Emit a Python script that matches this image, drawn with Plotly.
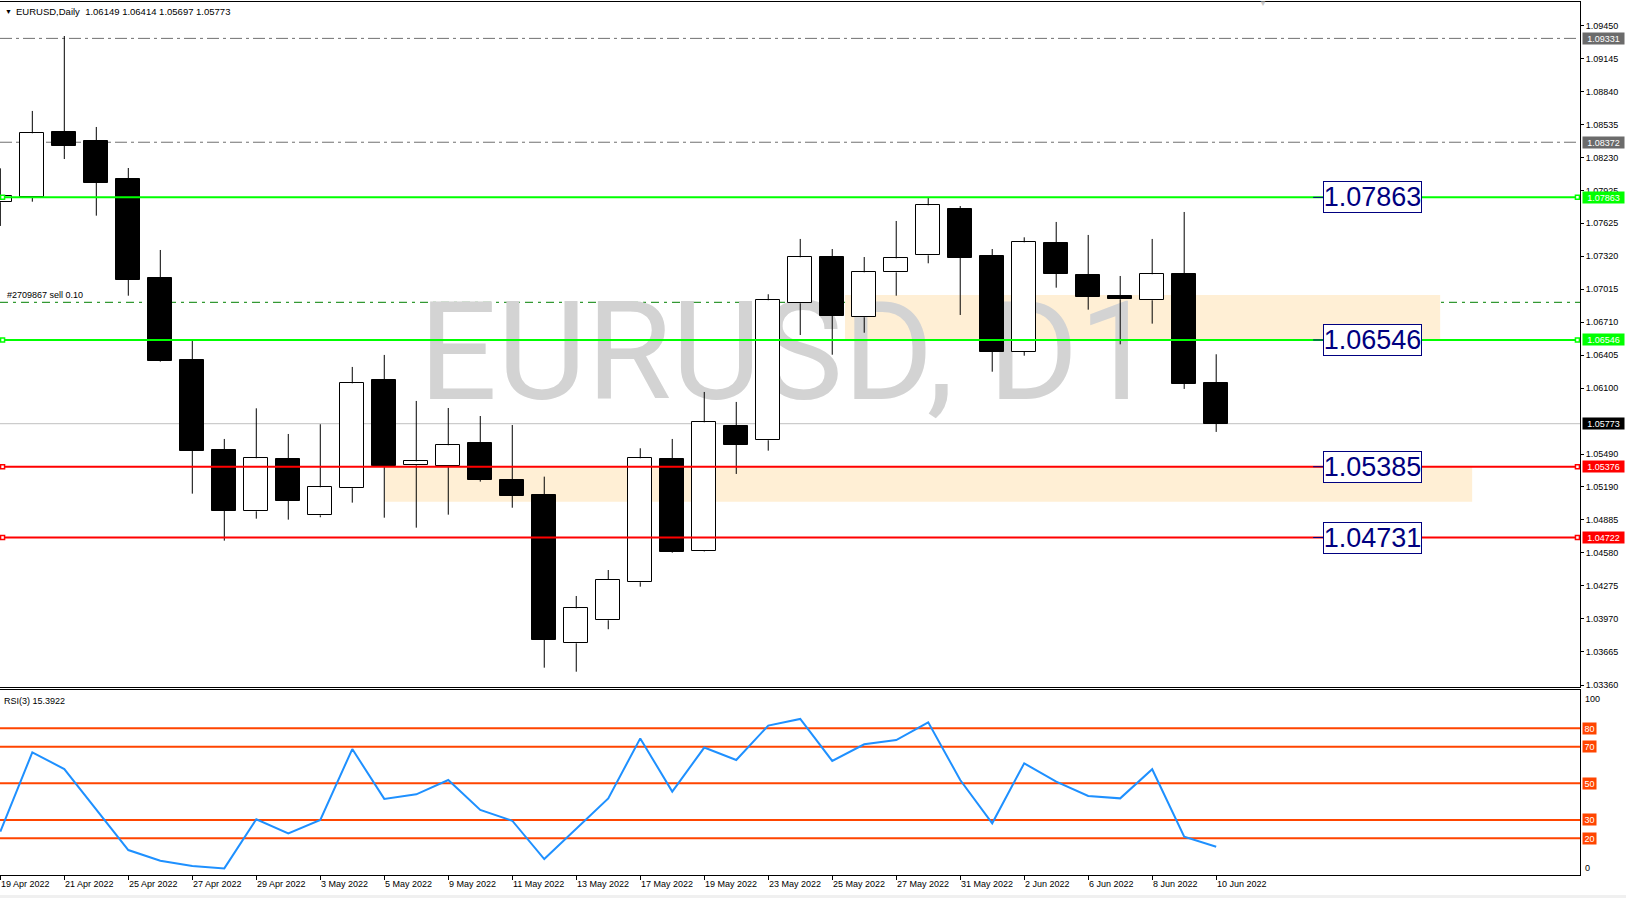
import plotly.graph_objects as go

# ---------------- data ----------------
dates = ["19 Apr 2022", "20 Apr 2022", "21 Apr 2022", "22 Apr 2022", "25 Apr 2022",
         "26 Apr 2022", "27 Apr 2022", "28 Apr 2022", "29 Apr 2022", "2 May 2022",
         "3 May 2022", "4 May 2022", "5 May 2022", "6 May 2022", "9 May 2022",
         "10 May 2022", "11 May 2022", "12 May 2022", "13 May 2022", "16 May 2022",
         "17 May 2022", "18 May 2022", "19 May 2022", "20 May 2022", "23 May 2022",
         "24 May 2022", "25 May 2022", "26 May 2022", "27 May 2022", "30 May 2022",
         "31 May 2022", "1 Jun 2022", "2 Jun 2022", "3 Jun 2022", "6 Jun 2022",
         "7 Jun 2022", "8 Jun 2022", "9 Jun 2022", "10 Jun 2022"]

opens = [1.07818, 1.07869, 1.08467, 1.08384, 1.08033, 1.07119, 1.06361, 1.05530, 1.04964, 1.05447,
         1.04927, 1.05177, 1.06177, 1.05389, 1.05383, 1.05592, 1.05253, 1.05115, 1.03745, 1.03958,
         1.04309, 1.05444, 1.04595, 1.05752, 1.05620, 1.06885, 1.07312, 1.06756, 1.07171, 1.07328,
         1.07756, 1.07322, 1.06438, 1.07442, 1.07143, 1.06952, 1.06913, 1.07155, 1.06149]
highs = [1.08131, 1.08661, 1.09353, 1.08513, 1.08134, 1.07377, 1.06540, 1.05632, 1.05915, 1.05678,
         1.05768, 1.06297, 1.06408, 1.05983, 1.05918, 1.05844, 1.05761, 1.05284, 1.04182, 1.04422,
         1.05546, 1.05632, 1.06066, 1.05974, 1.06968, 1.07479, 1.07386, 1.07312, 1.07645, 1.07860,
         1.07783, 1.07386, 1.07494, 1.07636, 1.07516, 1.07137, 1.07479, 1.07728, 1.06414]
lows = [1.07599, 1.07823, 1.08217, 1.07694, 1.06955, 1.06346, 1.05127, 1.04693, 1.04896, 1.04887,
        1.04909, 1.05044, 1.04905, 1.04813, 1.04933, 1.05238, 1.04997, 1.03520, 1.03483, 1.03875,
        1.04268, 1.04582, 1.04591, 1.05309, 1.05524, 1.06592, 1.06410, 1.06613, 1.06955, 1.07254,
        1.06777, 1.06253, 1.06401, 1.07029, 1.06826, 1.06506, 1.06697, 1.06094, 1.05697]
closes = [1.07876, 1.08455, 1.08340, 1.07999, 1.07103, 1.06355, 1.05524, 1.04970, 1.05454, 1.05062,
          1.05186, 1.06146, 1.05383, 1.05426, 1.05574, 1.05256, 1.05108, 1.03779, 1.04068, 1.04330,
          1.05454, 1.04591, 1.05786, 1.05579, 1.06913, 1.07310, 1.06770, 1.07171, 1.07300, 1.07790,
          1.07306, 1.06438, 1.07448, 1.07158, 1.06946, 1.06922, 1.07153, 1.06142, 1.05773]

rsi = [23.6, 66.9, 57.8, 36.0, 13.6, 7.8, 4.9, 3.6, 30.4, 22.7,
       30.0, 68.7, 41.5, 44.0, 51.8, 35.5, 29.6, 8.7, 25.5, 41.8,
       74.5, 45.5, 69.5, 62.7, 81.5, 85.1, 62.2, 71.3, 73.6, 83.3,
       51.8, 28.2, 60.9, 50.9, 43.1, 41.8, 57.7, 20.9, 15.3922]
rsi_levels = [80, 70, 50, 30, 20]

green_levels = [1.07863, 1.06546]
red_levels = [1.05376, 1.04722]
level_box_text = ["1.07863", "1.06546", "1.05385", "1.04731"]
gray_levels = [1.09331, 1.08372]
order_price = 1.06894
order_text = "#2709867 sell 0.10"
bid_price = 1.05773

upper_zone = dict(x0=26.4, x1=45.0, y0=1.06546, y1=1.06962)
lower_zone = dict(x0=12.02, x1=46.0, y0=1.05053, y1=1.05376)

price_ticks = [1.09450, 1.09145, 1.08840, 1.08535, 1.08230, 1.07925, 1.07625, 1.07320,
               1.07015, 1.06710, 1.06405, 1.06100, 1.05490, 1.05190, 1.04885,
               1.04580, 1.04275, 1.03970, 1.03665, 1.03360]

title_text = "EURUSD,Daily  1.06149 1.06414 1.05697 1.05773"
rsi_text = "RSI(3) 15.3922"
watermark = "EURUSD, D1"

# ---------------- layout constants ----------------
X0, X1 = -0.01, 49.37
Y_MAIN = [1.03337, 1.09667]
FONT = "Liberation Sans"
n = len(opens)
idx = list(range(n))

fig = go.Figure()

# candle bodies
fig.add_trace(go.Bar(
    x=idx,
    base=[min(o, c) for o, c in zip(opens, closes)],
    y=[abs(c - o) for o, c in zip(opens, closes)],
    width=0.74,
    marker=dict(color=["white" if c >= o else "black" for o, c in zip(opens, closes)],
                line=dict(color="black", width=1)),
    hoverinfo="skip", showlegend=False, xaxis="x", yaxis="y"))

# wicks (upper and lower parts)
wx, wy = [], []
for i, o, h, l, c in zip(idx, opens, highs, lows, closes):
    wx += [i, i, None, i, i, None]
    wy += [h, max(o, c), None, min(o, c), l, None]
fig.add_trace(go.Scatter(x=wx, y=wy, mode="lines", line=dict(color="black", width=1),
                         hoverinfo="skip", showlegend=False, xaxis="x", yaxis="y"))

# support / resistance lines
for levels, col in ((green_levels, "#00ff00"), (red_levels, "#ff0000")):
    for p in levels:
        fig.add_trace(go.Scatter(x=[X0, X1], y=[p, p], mode="lines",
                                 line=dict(color=col, width=2),
                                 hoverinfo="skip", showlegend=False, xaxis="x", yaxis="y"))
        fig.add_trace(go.Scatter(x=[0.07, 49.29], y=[p, p], mode="markers",
                                 marker=dict(symbol="square", size=4, color="white",
                                             line=dict(color=col, width=1.5)),
                                 hoverinfo="skip", showlegend=False, xaxis="x", yaxis="y"))

# RSI line
fig.add_trace(go.Scatter(x=idx, y=rsi, mode="lines", line=dict(color="#1e90ff", width=2),
                         hoverinfo="skip", showlegend=False, xaxis="x2", yaxis="y2"))

shapes = []
for z in (upper_zone, lower_zone):
    shapes.append(dict(type="rect", xref="x", yref="y", layer="below",
                       fillcolor="#FFEFD5", line=dict(width=0), **z))
shapes.append(dict(type="rect", xref="x", yref="y", layer="below",
                   x0=13.0, x1=36.2, y0=1.06086, y1=1.06974,
                   fillcolor="rgba(0,0,0,0)", line=dict(width=0),
                   label=dict(text=watermark, textposition="middle center",
                              font=dict(family="Roboto", size=138, color="#d3d3d3"))))
for p in gray_levels:
    shapes.append(dict(type="line", xref="x domain", yref="y", x0=0, x1=1, y0=p, y1=p,
                       layer="below", line=dict(color="#707070", width=1, dash="12px,4px,3px,4px")))
shapes.append(dict(type="line", xref="x domain", yref="y", x0=0, x1=1, y0=order_price,
                   y1=order_price, layer="below",
                   line=dict(color="#008000", width=1, dash="8px,5px,3px,5px")))
shapes.append(dict(type="line", xref="x domain", yref="y", x0=0, x1=1, y0=bid_price,
                   y1=bid_price, layer="below", line=dict(color="#c0c0c0", width=1)))
for lv in rsi_levels:
    shapes.append(dict(type="line", xref="x2 domain", yref="y2", x0=0, x1=1, y0=lv, y1=lv,
                       layer="below", line=dict(color="#ff4500", width=2)))
# navy ticks beside the big level boxes
for p in green_levels + red_levels:
    shapes.append(dict(type="line", xref="x", yref="y", x0=41.03, x1=41.34, y0=p, y1=p,
                       line=dict(color="#000080", width=1)))
# window bottom strip
shapes.append(dict(type="rect", xref="paper", yref="paper", x0=0, x1=1.03, y0=-0.0264,
                   y1=-0.0229, fillcolor="#f0f0f0", line=dict(width=0)))

ann = []
ann.append(dict(xref="paper", yref="paper", x=0, y=1, xanchor="left", yanchor="middle",
                xshift=3, yshift=-9, text="▼", showarrow=False,
                font=dict(family=FONT, size=7, color="black")))
ann.append(dict(xref="paper", yref="paper", x=0, y=1, xanchor="left", yanchor="middle",
                xshift=14, yshift=-9, text=title_text, showarrow=False,
                font=dict(family=FONT, size=9.5, color="black")))
ann.append(dict(xref="paper", yref="paper", x=1263 / 1580, y=1, xanchor="center",
                yanchor="middle", yshift=-1, text="▼", showarrow=False,
                font=dict(family=FONT, size=8, color="#c8c8c8")))
ann.append(dict(xref="paper", yref="y", x=0, y=order_price, xanchor="left", yanchor="bottom",
                xshift=5, text=order_text, showarrow=False,
                font=dict(family=FONT, size=9, color="black")))
for p, t in zip(green_levels + red_levels, level_box_text):
    ann.append(dict(xref="x", yref="y", x=42.89, y=p, xanchor="center", yanchor="middle",
                    text=t, showarrow=False, bgcolor="white", bordercolor="#000080",
                    borderwidth=1, borderpad=0, width=97, height=30,
                    font=dict(family=FONT, size=27, color="#000080")))


def tag(p, bg, yref="y", fg="white", text=None, w=39):
    return dict(xref="paper", yref=yref, x=1, y=p, xanchor="left", yanchor="middle",
                xshift=2, text=text if text is not None else f"{p:.5f}", showarrow=False,
                bgcolor=bg, borderpad=1, width=w, height=9,
                font=dict(family=FONT, size=9, color=fg))


for p in gray_levels:
    ann.append(tag(p, "#6b6b6b"))
for p in green_levels:
    ann.append(tag(p, "#00ff00"))
for p in red_levels:
    ann.append(tag(p, "#ff0000"))
ann.append(tag(bid_price, "black"))
for lv in rsi_levels:
    ann.append(tag(lv, "#ff4500", yref="y2", text=str(lv), w=11))
ann.append(dict(xref="paper", yref="y2", x=1, y=100, xanchor="left", yanchor="top",
                xshift=3, text="100", showarrow=False, font=dict(family=FONT, size=9)))
ann.append(dict(xref="paper", yref="y2", x=1, y=0, xanchor="left", yanchor="bottom",
                xshift=3, text="0", showarrow=False, font=dict(family=FONT, size=9)))
ann.append(dict(xref="paper", yref="y2", x=0, y=100, xanchor="left", yanchor="top",
                xshift=2, yshift=-2, text=rsi_text, showarrow=False,
                font=dict(family=FONT, size=9)))
for i in idx[::2]:
    ann.append(dict(xref="x2", yref="paper", x=i, y=0, xanchor="left", yanchor="top",
                    xshift=-1, yshift=-2, text=dates[i], showarrow=False,
                    font=dict(family=FONT, size=9, color="black")))

axis_common = dict(showgrid=False, zeroline=False, fixedrange=True,
                   linecolor="black", linewidth=1)
fig.update_layout(
    width=1626, height=898,
    margin=dict(l=0, r=46, t=2, b=23),
    paper_bgcolor="white", plot_bgcolor="white",
    font=dict(family=FONT, size=9, color="black"),
    showlegend=False, bargap=0,
    xaxis=dict(domain=[0, 1], range=[X0, X1], anchor="y", showticklabels=False,
               ticks="", showline=True, mirror=True, **axis_common),
    yaxis=dict(domain=[0.21478, 1], range=Y_MAIN, anchor="x", side="right",
               tickvals=price_ticks, ticktext=[f"{v:.5f}" for v in price_ticks],
               ticks="outside", ticklen=3, tickcolor="black", showline=True,
               tickfont=dict(family=FONT, size=9, color="black"), **axis_common),
    xaxis2=dict(domain=[0, 1], range=[X0, X1], anchor="y2", tickvals=idx[::2],
                showticklabels=False, ticks="outside", ticklen=4, tickcolor="black",
                showline=True, mirror=True, **axis_common),
    yaxis2=dict(domain=[0, 0.21191], range=[0, 100.9], anchor="x2", side="right",
                showticklabels=False, ticks="", showline=True, **axis_common),
    shapes=shapes,
    annotations=ann,
)

fig.write_html("out.html", config={"displayModeBar": False},
               post_script="document.body.style.margin='0';document.body.style.overflow='hidden';")
